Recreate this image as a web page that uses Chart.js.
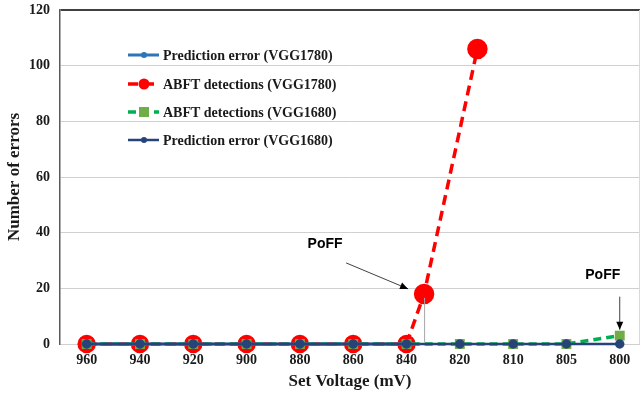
<!DOCTYPE html>
<html>
<head>
<meta charset="utf-8">
<script src="https://cdn.jsdelivr.net/npm/chart.js@4.4.1/dist/chart.umd.min.js"></script>
<style>
  html, body { margin: 0; padding: 0; background: #fff; overflow: hidden; }
  #wrap { width: 642px; height: 396px; position: relative; }
</style>
</head>
<body>
<div id="wrap"><canvas id="chart"></canvas></div>
<script>
// --- data ---
const voltageLabels = ['960', '940', '920', '900', '880', '860', '840', '820', '810', '805', '800'];
const yTicks = [0, 20, 40, 60, 80, 100, 120];

// category positions (0 = 960 mV ... 10 = 800 mV)
const catPos = [0, 1, 2, 3, 4, 5, 6, 7, 8, 9, 10];

const predVgg1780 = [0, 0, 0, 0, 0, 0, 0];                 // 960 .. 840
const abftVgg1780Pos = [0, 1, 2, 3, 4, 5, 6, 6.33, 7.33];  // last two sit between categories
const abftVgg1780 = [0, 0, 0, 0, 0, 0, 0, 18, 106];
const abftVgg1680 = [0, 0, 0, 0, 0, 0, 0, 0, 0, 0, 3];
const predVgg1680 = [0, 0, 0, 0, 0, 0, 0, 0, 0, 0, 0];

const serif = '"Liberation Serif", "Times New Roman", serif';

function pts(xs, ys) {
  return ys.map((v, i) => ({ x: xs[i], y: v }));
}

const datasets = [
  {
    label: 'Prediction error (VGG1780)',
    data: pts(catPos, predVgg1780),
    borderColor: '#2e75b6', backgroundColor: '#2e75b6',
    borderWidth: 3, pointRadius: 3, pointStyle: 'circle',
    clip: false, order: 2
  },
  {
    label: 'ABFT detections (VGG1780)',
    data: pts(abftVgg1780Pos, abftVgg1780),
    borderColor: '#ff0000', backgroundColor: '#ff0000',
    borderWidth: 3.5, borderDash: [10, 6],
    pointRadius: ctx => (ctx.raw && ctx.raw.y > 0 ? 8.5 : 7.5),
    pointStyle: 'circle',
    clip: false, order: 4
  },
  {
    label: 'ABFT detections (VGG1680)',
    data: pts(catPos, abftVgg1680),
    borderColor: '#00b050', backgroundColor: '#70ad47',
    borderWidth: 3.5, borderDash: [8, 5],
    pointRadius: 7, pointStyle: 'rect', pointBorderWidth: 0,
    clip: false, order: 3
  },
  {
    label: 'Prediction error (VGG1680)',
    data: pts(catPos, predVgg1680),
    borderColor: '#264478', backgroundColor: '#264478',
    borderWidth: 2.5, pointRadius: 3.5, pointStyle: 'circle',
    clip: false, order: 1
  }
];

// legend, drop line, PoFF arrows and frame
const extras = {
  id: 'extras',
  afterDraw(chart) {
    const ctx = chart.ctx;
    const xs = chart.scales.x, ys = chart.scales.y;
    const area = chart.chartArea;
    ctx.save();

    // right frame line
    ctx.strokeStyle = '#d9d9d9';
    ctx.lineWidth = 1;
    ctx.beginPath();
    ctx.moveTo(area.right - 0.5, area.top);
    ctx.lineTo(area.right - 0.5, area.bottom);
    ctx.stroke();

    // drop line under the first red jump point
    const rx = xs.getPixelForValue(abftVgg1780Pos[7]);
    const ry = ys.getPixelForValue(abftVgg1780[7]);
    ctx.strokeStyle = '#a6a6a6';
    ctx.lineWidth = 1;
    ctx.beginPath();
    ctx.moveTo(rx + 0.5, ry + 4);
    ctx.lineTo(rx + 0.5, ys.getPixelForValue(0) - 2);
    ctx.stroke();

    function arrow(x1, y1, x2, y2) {
      ctx.strokeStyle = '#404040';
      ctx.fillStyle = '#000';
      ctx.lineWidth = 1;
      ctx.beginPath();
      ctx.moveTo(x1, y1);
      ctx.lineTo(x2, y2);
      ctx.stroke();
      const a = Math.atan2(y2 - y1, x2 - x1);
      const L = 8, W = 3.5;
      ctx.beginPath();
      ctx.moveTo(x2, y2);
      ctx.lineTo(x2 - L * Math.cos(a) + W * Math.sin(a), y2 - L * Math.sin(a) - W * Math.cos(a));
      ctx.lineTo(x2 - L * Math.cos(a) - W * Math.sin(a), y2 - L * Math.sin(a) + W * Math.cos(a));
      ctx.closePath();
      ctx.fill();
    }

    ctx.font = 'bold 14px "Liberation Sans", Arial, sans-serif';
    ctx.textAlign = 'center';
    ctx.textBaseline = 'middle';

    // PoFF for VGG1780
    arrow(rx - 78, ry - 31, rx - 16, ry - 5);
    ctx.fillStyle = '#000';
    ctx.fillText('PoFF', rx - 99, ry - 50);

    // PoFF for VGG1680
    const gx = xs.getPixelForValue(catPos[10]);
    const gy = ys.getPixelForValue(abftVgg1680[10]);
    arrow(gx, gy - 39, gx, gy - 6);
    ctx.fillStyle = '#000';
    ctx.fillText('PoFF', gx - 17, gy - 61);

    // legend
    const lx = 128, ly = [55, 84, 112, 140];
    ctx.font = 'bold 14px ' + serif;
    ctx.textAlign = 'left';
    datasets.forEach((ds, i) => {
      const y = ly[i];
      ctx.strokeStyle = ds.borderColor;
      ctx.lineWidth = ds.borderWidth;
      ctx.setLineDash(ds.borderDash || []);
      ctx.beginPath();
      ctx.moveTo(lx, y);
      ctx.lineTo(lx + 31, y);
      ctx.stroke();
      ctx.setLineDash([]);
      ctx.fillStyle = ds.backgroundColor;
      const cx = lx + 16;
      if (ds.pointStyle === 'rect') {
        ctx.fillRect(cx - 5, y - 5, 10, 10);
      } else {
        const r = i === 1 ? 5.5 : 3;
        ctx.beginPath();
        ctx.arc(cx, y, r, 0, Math.PI * 2);
        ctx.fill();
      }
      ctx.fillStyle = '#1a1a1a';
      ctx.fillText(ds.label, lx + 35, y + 1);
    });

    ctx.restore();
  }
};

new Chart(document.getElementById('chart'), {
  type: 'line',
  data: { datasets },
  options: {
    responsive: true,
    maintainAspectRatio: false,
    animation: false,
    layout: { autoPadding: false, padding: { top: 10, right: 2, left: 4, bottom: 0 } },
    plugins: { legend: { display: false }, tooltip: { enabled: false } },
    scales: {
      x: {
        type: 'linear',
        min: -0.5, max: 10.38,
        afterBuildTicks: s => { s.ticks = catPos.map(v => ({ value: v })); },
        afterFit: s => { s.height = 52; s.paddingLeft = 0; s.paddingRight = 0; },
        ticks: {
          callback: (v) => voltageLabels[v],
          color: '#1a1a1a',
          font: { family: serif, size: 14, weight: 'bold' },
          padding: 8, maxRotation: 0, autoSkip: false
        },
        grid: { display: false, drawTicks: false },
        border: { display: false },
        title: {
          display: true, text: 'Set Voltage (mV)', color: '#1a1a1a',
          font: { family: serif, size: 17, weight: 'bold' },
          padding: { top: 2, bottom: 4 }
        }
      },
      y: {
        min: 0, max: 120,
        afterBuildTicks: s => { s.ticks = yTicks.map(v => ({ value: v })); },
        afterFit: s => { s.width = 56; s.paddingTop = 0; s.paddingBottom = 0; },
        ticks: {
          color: '#1a1a1a',
          font: { family: serif, size: 14, weight: 'bold' },
          padding: 10
        },
        grid: {
          drawTicks: false,
          color: c => (c.tick && c.tick.value === 120 ? '#404040' : '#d0d0d0'),
          lineWidth: c => (c.tick && c.tick.value === 120 ? 2 : 1)
        },
        border: { display: true, color: '#595959', width: 1.5 },
        title: {
          display: true, text: 'Number of errors', color: '#1a1a1a',
          font: { family: serif, size: 17, weight: 'bold' },
          padding: { top: 0, bottom: 0 }
        }
      }
    }
  },
  plugins: [extras]
});
</script>
</body>
</html>
